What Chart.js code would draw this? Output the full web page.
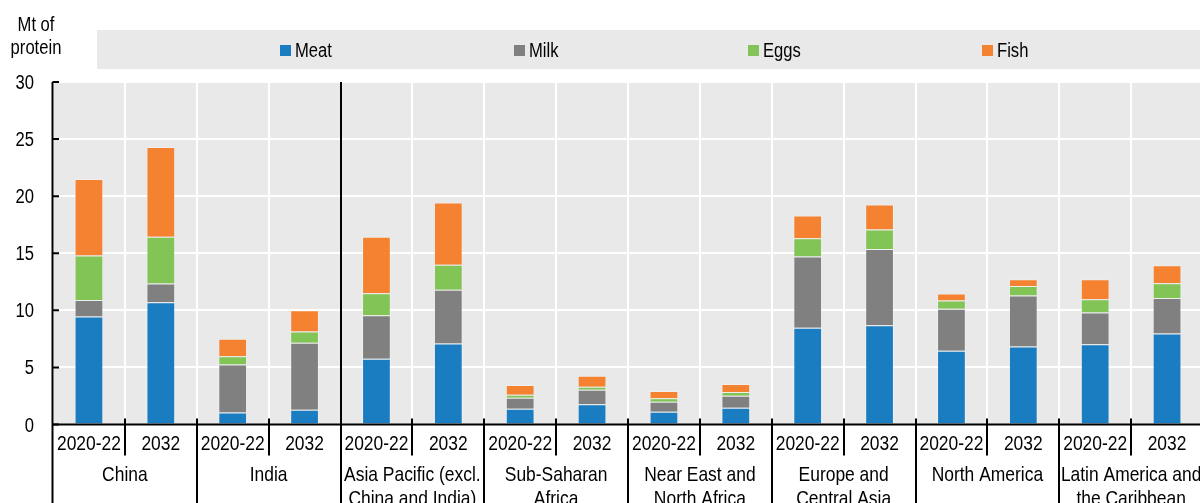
<!DOCTYPE html>
<html>
<head>
<meta charset="utf-8">
<script src="https://cdn.jsdelivr.net/npm/chart.js@4"></script>
<style>
  html, body { margin: 0; padding: 0; background: #fff; overflow: hidden; }
  #wrap { width: 1203px; height: 503px; }
</style>
</head>
<body>
<div id="wrap"><canvas id="proteinChart" width="1203" height="503"></canvas></div>
<script>
// Protein supply by region, Mt of protein
const periods = ['2020-22', '2032'];
const regions = [
    ['China'],
    ['India'],
    ['Asia Pacific (excl.', 'China and India)'],
    ['Sub-Saharan', 'Africa'],
    ['Near East and', 'North Africa'],
    ['Europe and', 'Central Asia'],
    ['North America'],
    ['Latin America and', 'the Caribbean']
];
const meat = [9.45, 10.7, 1.05, 1.3, 5.76, 7.1, 1.38, 1.77, 1.12, 1.47, 8.47, 8.7, 6.46, 6.84, 7.02, 7.98];
const milk = [1.45, 1.65, 4.2, 5.85, 3.8, 4.7, 0.97, 1.28, 0.88, 1.05, 6.25, 6.68, 3.67, 4.46, 2.8, 3.09];
const eggs = [3.9, 4.1, 0.72, 1.0, 1.93, 2.2, 0.25, 0.25, 0.29, 0.32, 1.6, 1.7, 0.74, 0.84, 1.16, 1.31];
const fish = [6.7, 7.85, 1.55, 1.85, 4.95, 5.44, 0.85, 0.97, 0.64, 0.7, 1.98, 2.18, 0.61, 0.59, 1.75, 1.57];
const yTicks = [0, 5, 10, 15, 20, 25, 30];

const FONT = '"Liberation Sans", Arial, sans-serif';
const labels = regions.flatMap(() => periods);

function series(label, data, color) {
    return {
        label: label,
        data: data,
        backgroundColor: color,
        borderColor: 'rgba(255, 255, 255, 0.3)',
        borderWidth: 1,
        barPercentage: 0.4,
        categoryPercentage: 1
    };
}

// category boundary k (0..n) in pixels
function boundary(x, k) {
    const step = x.getPixelForValue(1) - x.getPixelForValue(0);
    return x.getPixelForValue(0) - step / 2 + k * step;
}

// condensed text, like a narrow face
function narrow(ctx, text, px, py, size, align) {
    ctx.save();
    ctx.translate(px, py);
    ctx.scale(0.83, 1);
    ctx.font = size + 'px ' + FONT;
    ctx.textAlign = align;
    ctx.textBaseline = 'alphabetic';
    ctx.fillText(text, 0, 0);
    ctx.restore();
}

const decorations = {
    id: 'decorations',
    beforeDraw(chart) {
        const {ctx, chartArea: a} = chart;
        ctx.save();
        // plot background
        ctx.fillStyle = '#e9e9e9';
        ctx.fillRect(a.left, a.top, a.right - a.left, a.bottom - a.top);
        // legend band
        ctx.fillRect(97, 30, chart.width - 97, 39);
        ctx.restore();
    },
    afterDraw(chart) {
        const {ctx, chartArea: a, scales: {x, y}} = chart;
        const H = chart.height;
        ctx.save();
        ctx.strokeStyle = '#000';

        // y axis with inner ticks
        ctx.lineWidth = 2;
        ctx.beginPath();
        ctx.moveTo(a.left - 0.5, a.top);
        ctx.lineTo(a.left - 0.5, H);
        y.ticks.forEach(t => {
            const py = y.getPixelForValue(t.value);
            ctx.moveTo(a.left - 0.5, py);
            ctx.lineTo(a.left + 6, py);
        });
        ctx.stroke();

        // x axis
        ctx.beginPath();
        ctx.moveTo(a.left - 1, a.bottom);
        ctx.lineTo(chart.width, a.bottom);
        ctx.stroke();

        // separators: short ticks between periods, full lines between regions
        for (let k = 1; k < labels.length; k++) {
            const bx = Math.round(boundary(x, k));
            ctx.beginPath();
            if (k === 4) {
                ctx.moveTo(bx, a.top);
                ctx.lineTo(bx, H);
            } else if (k % 2 === 0) {
                ctx.moveTo(bx, a.bottom - 6);
                ctx.lineTo(bx, H);
            } else {
                ctx.moveTo(bx, a.bottom - 6);
                ctx.lineTo(bx, a.bottom + 31);
            }
            ctx.stroke();
        }

        ctx.fillStyle = '#000';

        // tick labels
        y.ticks.forEach(t => {
            narrow(ctx, String(t.value), 34, y.getPixelForValue(t.value) + 7, 20, 'right');
        });
        labels.forEach((lab, i) => {
            narrow(ctx, lab, x.getPixelForValue(i), 450, 21, 'center');
        });

        // region names
        regions.forEach((lines, g) => {
            const cx = boundary(x, g * 2 + 1);
            lines.forEach((t, i) => narrow(ctx, t, cx, 481 + i * 24, 21, 'center'));
        });

        // axis unit
        narrow(ctx, 'Mt of', 36, 30.5, 20, 'center');
        narrow(ctx, 'protein', 36, 53.5, 20, 'center');

        // legend
        chart.data.datasets.forEach((ds, i) => {
            const lx = 280 + i * 234;
            ctx.fillStyle = ds.backgroundColor;
            ctx.fillRect(lx, 45, 11, 11);
            ctx.fillStyle = '#000';
            narrow(ctx, ds.label, lx + 15, 56.5, 20, 'left');
        });
        ctx.restore();
    }
};

new Chart(document.getElementById('proteinChart'), {
    type: 'bar',
    data: {
        labels: labels,
        datasets: [
            series('Meat', meat, '#1a7dc1'),
            series('Milk', milk, '#808080'),
            series('Eggs', eggs, '#82c455'),
            series('Fish', fish, '#f58231')
        ]
    },
    options: {
        responsive: false,
        animation: false,
        devicePixelRatio: 1,
        layout: { padding: { top: 82, left: 0, right: 0, bottom: 0 } },
        plugins: {
            legend: { display: false },
            tooltip: { enabled: false }
        },
        scales: {
            x: {
                stacked: true,
                afterFit: s => { s.height = 78.5; },
                border: { display: false },
                grid: { offset: true, color: '#fff', lineWidth: 2, drawTicks: false },
                ticks: { display: false, autoSkip: false }
            },
            y: {
                stacked: true,
                min: 0,
                max: 30,
                afterFit: s => { s.width = 53; },
                afterBuildTicks: s => { s.ticks = yTicks.map(v => ({value: v})); },
                border: { display: false },
                grid: { color: '#fff', lineWidth: 2, drawTicks: false },
                ticks: { display: false }
            }
        }
    },
    plugins: [decorations]
});
</script>
</body>
</html>
